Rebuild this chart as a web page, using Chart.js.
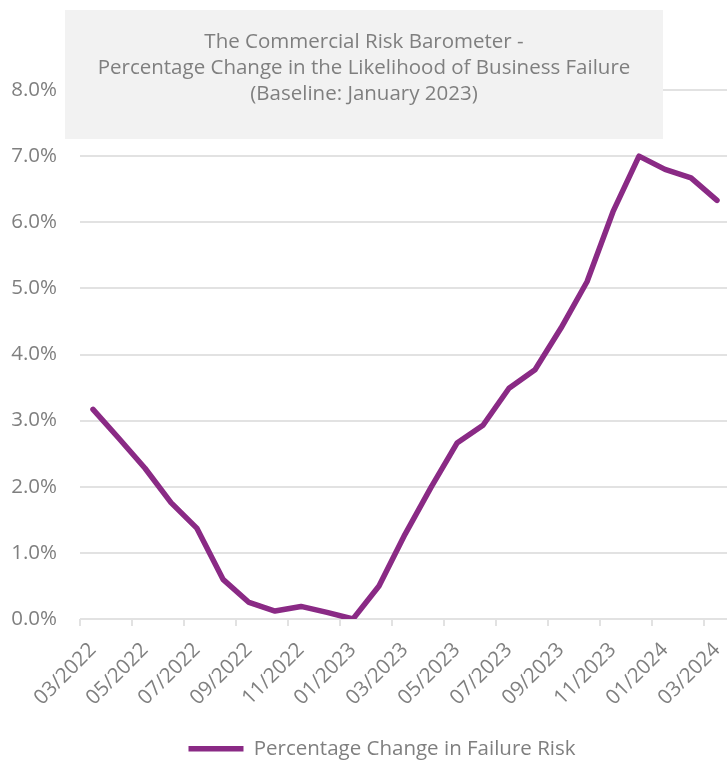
<!DOCTYPE html>
<html lang="en">
<head>
    <meta charset="UTF-8">
    <title>Commercial Risk Barometer</title>
    <script src="https://cdn.jsdelivr.net/npm/chart.js"></script>
    <style>
        html, body { margin: 0; padding: 0; background: #fff; overflow: hidden; }
        #wrap { width: 730px; height: 762px; overflow: hidden; }
    </style>
</head>
<body>
    <div id="wrap">
        <canvas id="riskChart" width="730" height="769"></canvas>
    </div>

    <script>
        // Monthly categories, March 2022 to March 2024
        const months = [
            '03/2022', '04/2022', '05/2022', '06/2022', '07/2022', '08/2022', '09/2022',
            '10/2022', '11/2022', '12/2022', '01/2023', '02/2023', '03/2023', '04/2023',
            '05/2023', '06/2023', '07/2023', '08/2023', '09/2023', '10/2023', '11/2023',
            '12/2023', '01/2024', '02/2024', '03/2024'
        ];

        // % change in likelihood of business failure vs January 2023
        const failureRisk = [
            3.17, 2.73, 2.28, 1.76, 1.37, 0.60, 0.25,
            0.12, 0.19, 0.10, 0.00, 0.50, 1.28, 1.99,
            2.66, 2.93, 3.49, 3.77, 4.40, 5.10, 6.16,
            7.00, 6.80, 6.67, 6.33
        ];

        const titleLines = [
            'The Commercial Risk Barometer -',
            'Percentage Change in the Likelihood of Business Failure',
            '(Baseline: January 2023)'
        ];

        const seriesName = 'Percentage Change in Failure Risk';

        const grey = '#7f7f7f';
        const gridGrey = '#e2e2e2';
        const purple = '#8a2a85';
        const fontFamily = 'Open Sans';
        const fontSize = 20.5;

        // grey title panel laid over the top of the plot
        const titleBox = {
            id: 'titleBox',
            afterLayout(chart) {
                // nudge the legend a little right of centre
                chart.legend.left += 17;
                chart.legend.right += 17;
            },
            afterDraw(chart) {
                const ctx = chart.ctx;
                ctx.save();
                ctx.fillStyle = '#f2f2f2';
                ctx.fillRect(65, 10, 598, 129);
                ctx.fillStyle = grey;
                ctx.font = fontSize + 'px "' + fontFamily + '"';
                ctx.textAlign = 'center';
                ctx.textBaseline = 'middle';
                titleLines.forEach((line, i) => {
                    ctx.fillText(line, 364, 42 + i * 26);
                });
                ctx.restore();
            }
        };

        new Chart(document.getElementById('riskChart'), {
            type: 'line',
            data: {
                labels: months,
                datasets: [{
                    label: seriesName,
                    data: failureRisk,
                    borderColor: purple,
                    backgroundColor: purple,
                    borderWidth: 5.5,
                    pointRadius: 0,
                    tension: 0,
                    borderCapStyle: 'round',
                    borderJoinStyle: 'round'
                }]
            },
            options: {
                responsive: false,
                devicePixelRatio: 1,
                animation: false,
                layout: { padding: { top: 90, left: 0, right: 0, bottom: 0 } },
                plugins: {
                    tooltip: { enabled: false },
                    legend: {
                        position: 'bottom',
                        labels: {
                            usePointStyle: true,
                            pointStyle: 'line',
                            pointStyleWidth: 55,
                            color: grey,
                            font: { family: fontFamily, size: fontSize },
                            padding: 3
                        }
                    }
                },
                scales: {
                    x: {
                        offset: true,
                        grid: {
                            offset: true,
                            drawOnChartArea: false,
                            drawTicks: true,
                            tickLength: 7,
                            lineWidth: 2,
                            color: c => (c.index % 2 === 0 ? gridGrey : 'rgba(0,0,0,0)')
                        },
                        border: { display: false },
                        ticks: {
                            autoSkip: false,
                            minRotation: 45,
                            maxRotation: 45,
                            padding: 12,
                            color: grey,
                            font: { family: fontFamily, size: fontSize },
                            callback: (v, i) => (i % 2 === 0 ? months[i] : '')
                        },
                        afterFit: s => {
                            s.height = 116.5;
                            s.paddingRight = 0;
                        }
                    },
                    y: {
                        min: 0,
                        max: 8,
                        grid: { color: gridGrey, lineWidth: 2, drawTicks: false },
                        border: { display: false },
                        ticks: {
                            stepSize: 1,
                            padding: 23,
                            color: grey,
                            font: { family: fontFamily, size: fontSize },
                            callback: v => v.toFixed(1) + '%'
                        },
                        afterFit: s => { s.width = 80; }
                    }
                }
            },
            plugins: [titleBox]
        });
    </script>
</body>
</html>
